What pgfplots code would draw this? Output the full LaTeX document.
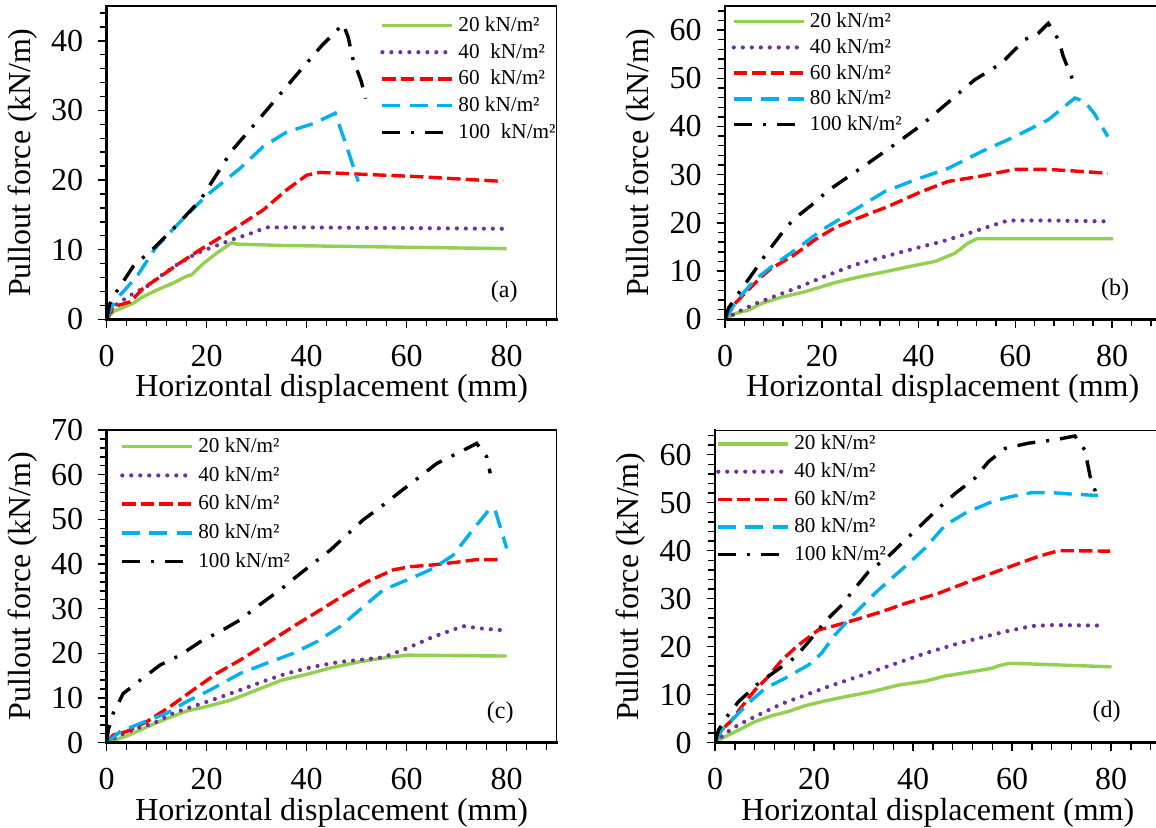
\documentclass[border=0pt]{standalone}
\usepackage{fontspec}
\setmainfont{Liberation Serif}
\usepackage{pgfplots}
\pgfplotsset{compat=1.18}

\definecolor{g20}{RGB}{146,208,80}
\definecolor{p40}{RGB}{112,48,160}
\definecolor{r60}{RGB}{255,0,0}
\definecolor{b80}{RGB}{0,176,240}

\tikzset{
  s20/.style={color=g20, line width=1.7pt},
  s40/.style={color=p40, line width=2.1pt, line cap=round, dash pattern=on 0pt off 4.5pt},
  s60/.style={color=r60, line width=1.7pt, dash pattern=on 6.7pt off 2.6pt},
  s80/.style={color=b80, line width=1.7pt, dash pattern=on 9pt off 4.6pt},
  s100/.style={color=black, line width=1.7pt, dash pattern=on 9pt off 5.5pt on 1.5pt off 5.5pt},
}

\pgfplotsset{
  panel/.style={
    scale only axis,
    xmin=0, xmax=90,
    xtick={0,20,...,80},
    minor xtick={0,4,...,88},
    tick pos=left,
    tick align=outside,
    major tick length=4.2pt,
    minor tick length=3.6pt,
    every tick/.append style={black, line width=0.7pt},
    axis line style={line width=0.7pt},
    /pgf/number format/assume math mode=true,
    tick label style={font=\fontsize{16}{19}\selectfont},
    xlabel={Horizontal displacement (mm)},
    ylabel={Pullout force (kN/m)},
    every axis x label/.style={at={(rel axis cs:0.5,0)}, yshift=-35pt, anchor=center,
      font=\fontsize{16}{19}\selectfont},
    every axis y label/.style={at={(rel axis cs:0,0.5)}, xshift=-42pt, rotate=90, anchor=center,
      font=\fontsize{16}{19}\selectfont},
    xticklabel style={yshift=-5pt},
    yticklabel style={xshift=-4pt},
    legend image code/.code={\draw[##1] (0pt,0pt) -- (35pt,0pt);},
    legend cell align=left,
    legend style={draw=none, fill=none, inner sep=0pt, anchor=north west,
      font=\fontsize{10.6}{12.7}\selectfont},
    extra description/.code={\draw[line width=1.3pt, line cap=rect] (0,1) -- (0,0) -- (1,0);},
  }
}

\begin{document}
\begin{tikzpicture}
\useasboundingbox (0,0) rectangle (578pt,414pt);
\clip (0,0) rectangle (578pt,414pt);

% (a)
\begin{axis}[panel,
  at={(53.35pt,254.35pt)}, anchor=south west,
  width=225pt, height=156.65pt,
  ymin=0, ymax=45, ytick={0,10,...,40}, minor ytick={0,2,...,44},
  legend style={at={(rel axis cs:0.607,0.98)}, row sep=0.5pt}]
\addplot[s20] coordinates {(0,0) (1.3,1.1) (5.3,2.3) (7.3,3.25) (10,4.2) (13.3,5.2) (16,6.2) (17,6.4) (19.3,8.0) (22,9.5) (25,11.0) (26,10.8) (35.3,10.6) (50,10.45) (65,10.3) (80,10.15)};
\addlegendentry{20 kN/m²}
\addplot[s40] coordinates {(0,0) (1.7,2.0) (5.3,3.7) (8,4.7) (10.7,6.2) (14,7.8) (18,9.5) (21.3,10.4) (25.3,11.5) (28.7,12.3) (32,13.2) (38.7,13.2) (60,13.1) (80,13.0)};
\addlegendentry{40\ \ kN/m²}
\addplot[s60] coordinates {(0,0) (1.3,1.8) (4.7,2.5) (7.3,4.45) (10.7,6.1) (14,7.8) (18.7,10) (24,12.3) (31.3,15.7) (36,18.6) (40,20.7) (42.7,21.1) (52,20.8) (62,20.5) (79.3,19.8)};
\addlegendentry{60\ \ kN/m²}
\addplot[s80] coordinates {(0,0) (1,1.8) (2.7,3.5) (6,6.1) (9.7,10.2) (14,13.5) (20,17.8) (26.7,21.7) (31.3,24.8) (36,26.9) (41.3,28.1) (45.7,29.6) (48,24.8) (50.3,19.8)};
\addlegendentry{80 kN/m²}
\addplot[s100] coordinates {(0,0) (0.6,2.2) (2,4) (5.3,7.6) (9.7,10.4) (14,13.5) (18.7,17.1) (25,24.2) (31,29.2) (37,34.3) (43,39.3) (47.3,42.4) (48.3,40.5) (49.2,37.5) (50.9,34.2) (51.8,31.7)};
\addlegendentry{100\ \ kN/m²}
\node[font=\fontsize{12}{14}\selectfont] at (axis cs:79.5,4) {(a)};
\end{axis}

% (b)
\begin{axis}[panel,
  at={(362.5pt,254.35pt)}, anchor=south west,
  width=217.8pt, height=156.65pt,
  ymin=0, ymax=65, ytick={0,10,...,60}, minor ytick={0,2,...,64},
  legend style={at={(rel axis cs:0.0145,0.992)}}]
\addplot[s20] coordinates {(0,0) (2.1,1.2) (4.8,1.9) (7.6,3.3) (11.7,4.6) (16.5,5.7) (22.7,7.6) (28.2,8.9) (32.3,9.7) (37.9,10.9) (43.4,12.0) (47.5,13.7) (50.2,15.8) (52,16.7) (80.2,16.7)};
\addlegendentry{20 kN/m²}
\addplot[s40] coordinates {(0,0) (2.8,1.6) (6.2,3.2) (10.3,4.8) (15.1,6.6) (20.6,8.9) (26.8,11.3) (33,13) (39.2,14.7) (44.7,16.1) (50.2,17.8) (54.4,19.2) (58.5,20.5) (66.8,20.5) (79.8,20.3)};
\addlegendentry{40 kN/m²}
\addplot[s60] coordinates {(0,0) (2.1,3.3) (4.8,6.1) (7.6,8.9) (9.6,10.6) (13.8,13) (18.6,16.5) (22.7,19) (27.5,21) (33.7,23.4) (40.6,26.5) (46.1,28.6) (52.3,29.6) (59.9,31.1) (66.8,31.1) (71.6,30.8) (79.1,30.3)};
\addlegendentry{60 kN/m²}
\addplot[s80] coordinates {(0,0) (1.4,2.3) (3.4,5) (6.2,8.2) (9.6,10.9) (14.5,14.4) (20,18.5) (26.8,22.7) (33,26.5) (39.2,28.9) (46.1,31.3) (53,34.8) (59.9,37.9) (66.8,41.4) (72.3,45.9) (74.3,45.2) (76.3,42.7) (79.1,37.9)};
\addlegendentry{80 kN/m²}
\addplot[s100] coordinates {(0,0) (0.7,2.3) (2.8,5.4) (6.2,10.2) (8.3,13.3) (11.7,17.8) (14.1,20.7) (17.9,23.7) (21.3,26.7) (25.5,29.6) (29.6,32.4) (34.4,35.8) (40.6,40.3) (44.7,43.8) (51.6,49.7) (57.1,53.1) (61.9,58) (64.7,59.3) (66.8,61.4) (68.9,58) (69.9,54.5) (72,49.3)};
\addlegendentry{100 kN/m²}
\node[font=\fontsize{12}{14}\selectfont] at (axis cs:80.6,6.1) {(b)};
\end{axis}

% (c)
\begin{axis}[panel,
  at={(53.35pt,42.65pt)}, anchor=south west,
  width=225pt, height=156.35pt,
  ymin=0, ymax=70, ytick={0,10,...,70}, minor ytick={0,2,...,70},
  legend style={at={(rel axis cs:0.029,0.989)}, row sep=1.5pt}]
\addplot[s20] coordinates {(0,0) (4,1.5) (8,3.5) (12,5.4) (16,7.1) (20,8.1) (25,9.6) (30,11.8) (35,14) (40,15.3) (45,16.8) (50,18) (55,18.9) (60,19.6) (70,19.5) (80,19.4)};
\addlegendentry{20 kN/m²}
\addplot[s40] coordinates {(0,0) (2.7,1.7) (6,3.2) (9.3,4.3) (13.3,6.6) (18,8.4) (22,9.9) (26.7,11.8) (32,14) (36,15.5) (41.3,17) (46.7,18.1) (52,18.7) (55.3,19.1) (60,21.1) (65.3,23.7) (71.3,26.1) (74.7,25.6) (80,25.1)};
\addlegendentry{40 kN/m²}
\addplot[s60] coordinates {(0,0) (1.3,1.7) (4,2.5) (8,4.7) (12.7,8.1) (17.3,11.8) (22,15.5) (26.7,18.5) (32,22.2) (37.3,26) (42.7,29.7) (48,33.4) (52,36) (57.3,38.7) (60.7,39.4) (65.3,39.8) (70.7,40.5) (74,41) (78.7,41)};
\addlegendentry{60 kN/m²}
\addplot[s80] coordinates {(0,0) (2.7,2.5) (6.7,4.3) (12,6.6) (16,9.2) (20.7,11.8) (26.7,15.5) (32,17.8) (37.3,20) (42,22.6) (46.7,26) (51.3,30.4) (55.3,34.2) (60,36.4) (65.3,39) (69.3,42) (72.7,46.9) (76.7,52.5) (77.7,52) (80,43.5)};
\addlegendentry{80 kN/m²}
\addplot[s100] coordinates {(0,0) (0.3,2.8) (1.3,6.6) (3.3,11) (6.7,14) (10.7,17.4) (14.7,19.6) (18.7,22.6) (22.7,24.9) (26.7,27.5) (30,30.4) (33.3,33.1) (34.7,34.2) (37.3,36.6) (40,39) (44.7,43.1) (51.3,49.9) (55.3,53.2) (58.7,56.2) (61.3,58.4) (66,62.5) (70.7,65.1) (74,67) (76,64) (76.7,60.3)};
\addlegendentry{100 kN/m²}
\node[font=\fontsize{12}{14}\selectfont] at (axis cs:78.7,6.6) {(c)};
\end{axis}

% (d)
\begin{axis}[panel,
  at={(357.5pt,42.65pt)}, anchor=south west,
  width=222.75pt, height=156pt,
  ymin=0, ymax=65, ytick={0,10,...,60}, minor ytick={0,2,...,64},
  legend style={at={(rel axis cs:0.0016,1.0)}, row sep=1pt}]
\addplot[s20] coordinates {(0,0) (2,1.25) (4.7,2.6) (8.1,4.4) (11.4,5.6) (14.8,6.5) (18.2,7.7) (22.2,8.7) (26.9,9.7) (31.6,10.6) (37,12) (42.4,12.8) (46.5,13.9) (51.9,14.8) (55.9,15.5) (57.2,16) (59.3,16.5) (61.3,16.5) (80.1,15.8)};
\addlegendentry{20 kN/m²}
\addplot[s40] coordinates {(0,0) (2,1.9) (4.7,3.7) (8.8,5.8) (13.5,8.1) (18.2,9.9) (22.9,11.7) (29,13.8) (35.7,16.2) (42.4,18.6) (49.2,20.7) (54.5,22.1) (59.3,23.3) (64,24.3) (68,24.5) (78.8,24.4)};
\addlegendentry{40 kN/m²}
\addplot[s60] coordinates {(0,0) (1.3,2.6) (3.4,4.7) (5.4,7.5) (8.1,11) (10.8,13.8) (13.5,17.2) (16.8,20.3) (20.9,23.5) (23.6,24.2) (28.3,25.6) (33.7,27.3) (38.4,29) (45.1,31.1) (51.9,33.8) (58.6,36.3) (65.3,38.8) (69.4,40) (72,40) (79.8,39.9)};
\addlegendentry{60 kN/m²}
\addplot[s80] coordinates {(0,0) (1.3,2.6) (3.4,4.7) (6.7,8.2) (10.1,11.3) (14.1,13.4) (18.9,16.2) (21.5,18.6) (24.2,22.4) (27.6,26.3) (33,31.8) (38.4,36.7) (42.4,40.5) (46.5,45.3) (50.5,47.8) (55.9,50.2) (59.9,51.3) (64,52.1) (68,52.1) (72,51.8) (77.4,51.5)};
\addlegendentry{80 kN/m²}
\addplot[s100] coordinates {(0,0) (0.7,2.6) (2.4,5.4) (4.7,8.5) (8.8,12.4) (12.1,14.8) (16.2,17.8) (18.9,21) (22.2,25.2) (25.6,28.7) (28.3,32.2) (31,35.6) (35,38.8) (38.4,42.2) (41.8,45.5) (45.1,48.8) (48.5,51.9) (52.5,55.1) (55.2,58.5) (58.6,61.3) (63.3,62.4) (68.7,63.1) (72.7,63.9) (74.7,61) (75.8,55.4) (77.1,51.6)};
\addlegendentry{100 kN/m²}
\node[font=\fontsize{12}{14}\selectfont] at (axis cs:79.1,6.5) {(d)};
\end{axis}
\end{tikzpicture}
\end{document}
